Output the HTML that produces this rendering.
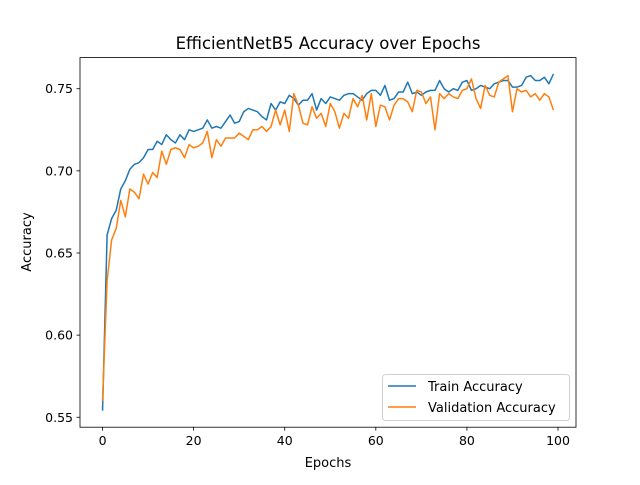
<!DOCTYPE html>
<html><head><meta charset="utf-8">
<style>
body{margin:0;background:#fff;}
svg text{font-family:"DejaVu Sans","Liberation Sans",sans-serif;fill:#000;}
</style></head>
<body>
<svg id="chart" width="640" height="480" xmlns="http://www.w3.org/2000/svg">
<rect width="640" height="480" fill="#fff"/>
<text x="328" y="49" font-size="16.5" text-anchor="middle">EfficientNetB5 Accuracy over Epochs</text>
<g id="plot"></g>
<rect x="80" y="57.6" width="496" height="369.6" fill="none" stroke="#000" stroke-width="0.8"/>
<text x="328" y="467" font-size="13" text-anchor="middle">Epochs</text>
<text x="31" y="242" font-size="13" text-anchor="middle" transform="rotate(-90 31 242)">Accuracy</text>
<g>
<rect x="382.5" y="374.5" width="187" height="46" rx="3" fill="#fff" stroke="#ccc" stroke-width="1" opacity="0.9"/>
<line x1="388" y1="386" x2="416" y2="386" stroke="#1f77b4" stroke-width="1.5"/>
<text x="428" y="391" font-size="13">Train Accuracy</text>
<line x1="388" y1="407" x2="416" y2="407" stroke="#ff7f0e" stroke-width="1.5"/>
<text x="428" y="412" font-size="13">Validation Accuracy</text>
</g>
</svg>
<script>
const train=[0.554,0.661,0.671,0.676,0.689,0.694,0.701,0.704,0.705,0.708,0.713,0.713,0.718,0.716,0.722,0.719,0.717,0.722,0.719,0.725,0.724,0.725,0.726,0.731,0.726,0.727,0.726,0.730,0.734,0.729,0.730,0.736,0.738,0.737,0.736,0.733,0.731,0.741,0.737,0.742,0.741,0.746,0.744,0.740,0.743,0.743,0.747,0.737,0.744,0.741,0.745,0.744,0.743,0.746,0.747,0.747,0.745,0.743,0.747,0.749,0.749,0.746,0.752,0.743,0.744,0.748,0.748,0.754,0.747,0.748,0.746,0.748,0.749,0.749,0.755,0.750,0.748,0.750,0.749,0.754,0.755,0.749,0.750,0.752,0.751,0.750,0.753,0.754,0.755,0.755,0.751,0.751,0.752,0.757,0.758,0.755,0.755,0.757,0.753,0.759];
const val=[0.560,0.633,0.658,0.665,0.682,0.672,0.689,0.687,0.683,0.698,0.692,0.699,0.696,0.712,0.704,0.713,0.714,0.713,0.708,0.716,0.714,0.715,0.717,0.724,0.708,0.719,0.715,0.720,0.720,0.720,0.723,0.721,0.719,0.725,0.725,0.727,0.724,0.727,0.737,0.728,0.737,0.724,0.747,0.740,0.729,0.728,0.739,0.732,0.735,0.727,0.741,0.736,0.726,0.735,0.732,0.744,0.739,0.746,0.731,0.747,0.727,0.740,0.739,0.731,0.740,0.744,0.744,0.742,0.736,0.749,0.748,0.741,0.745,0.725,0.747,0.744,0.747,0.745,0.744,0.749,0.750,0.756,0.744,0.738,0.752,0.746,0.745,0.754,0.756,0.758,0.736,0.750,0.748,0.749,0.745,0.747,0.743,0.747,0.745,0.737];
const xTicks=[0,20,40,60,80,100];
const yTicks=[0.55,0.60,0.65,0.70,0.75];
const L=80,R=576,T=57.6,B=427.2;
const x0=-4.95,x1=103.95,y0=0.54395,y1=0.76895;
const sx=v=>L+(v-x0)/(x1-x0)*(R-L);
const sy=v=>B-(v-y0)/(y1-y0)*(B-T);
const NS='http://www.w3.org/2000/svg';
const g=document.getElementById('plot');
function mk(t,a){const e=document.createElementNS(NS,t);for(const k in a)e.setAttribute(k,a[k]);g.appendChild(e);return e;}
xTicks.forEach(v=>{
  const l=mk('line',{x1:sx(v),x2:sx(v),y1:B,y2:B+3.5,stroke:'#000','stroke-width':0.8});
  
  
  const t=mk('text',{x:sx(v),y:B+18,'font-size':12.5,'text-anchor':'middle'});
  
  
  t.textContent=v;
});
yTicks.forEach(v=>{
  const l=mk('line',{x1:L-3.5,x2:L,y1:sy(v),y2:sy(v),stroke:'#000','stroke-width':0.8});
  
  
  const t=mk('text',{x:L-7,y:sy(v)+4.5,'font-size':12.5,'text-anchor':'end'});
  
  
  t.textContent=v.toFixed(2);
});
function line(arr,color,name){
  const p=mk('polyline',{points:arr.map((v,i)=>sx(i)+','+sy(v)).join(' '),fill:'none',stroke:color,'stroke-width':1.5,'stroke-linejoin':'round'});
  
  
}
line(train,'#1f77b4','train-accuracy-line');
line(val,'#ff7f0e','validation-accuracy-line');
</script>
</body></html>
